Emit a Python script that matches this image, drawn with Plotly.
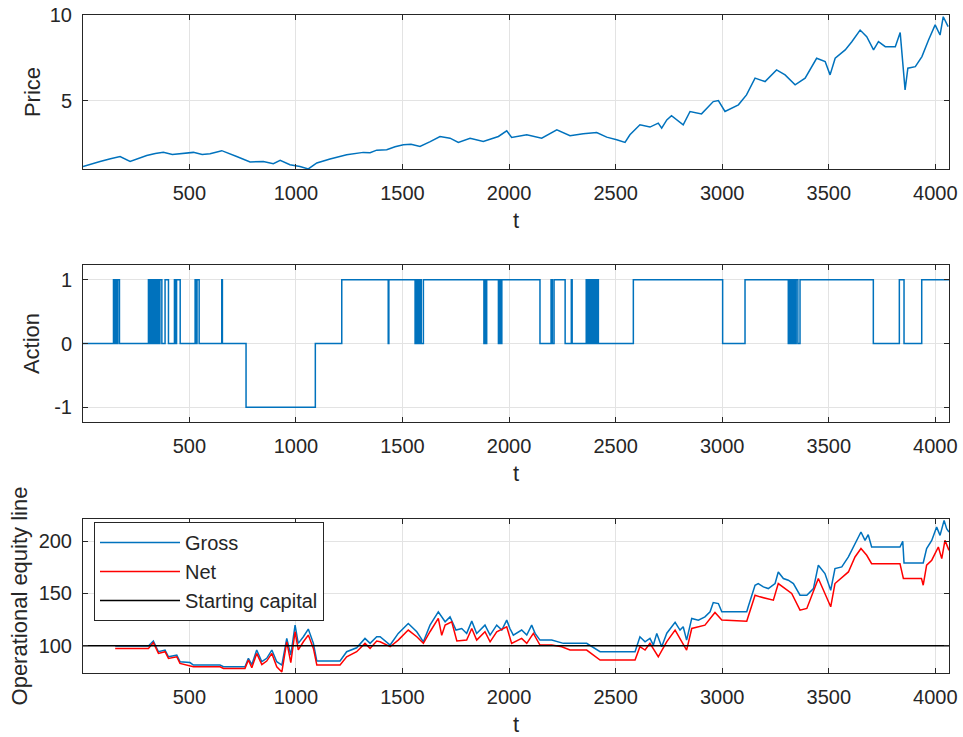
import plotly.graph_objects as go

# ---------------- data ----------------
price_t = [1, 40, 81, 130, 175, 222, 260, 300, 340, 378, 420, 456, 490, 519, 560, 597, 652, 690,
           722, 785, 847, 894, 926, 972, 1019, 1058, 1098, 1160, 1238, 1316, 1348, 1379, 1426, 1465,
           1504, 1540, 1582, 1630, 1676, 1723, 1762, 1817, 1879, 1950, 1989, 2012, 2083, 2153, 2224,
           2286, 2348, 2411, 2458, 2505, 2544, 2567, 2614, 2661, 2700, 2716, 2740, 2762, 2790, 2817,
           2849, 2903, 2958, 2982, 3013, 3076, 3114, 3154, 3201, 3255, 3295, 3342, 3389, 3443, 3483,
           3506, 3530, 3577, 3608, 3647, 3678, 3710, 3733, 3765, 3812, 3835, 3858, 3871, 3906, 3937,
           3968, 3999, 4022, 4037, 4060]
price_v = [1.15, 1.30, 1.44, 1.60, 1.73, 1.44, 1.60, 1.79, 1.90, 1.97, 1.85, 1.89, 1.95, 1.97, 1.85,
           1.89, 2.07, 1.90, 1.73, 1.41, 1.44, 1.31, 1.50, 1.25, 1.15, 1.00, 1.35, 1.58, 1.83, 1.97,
           1.95, 2.10, 2.12, 2.30, 2.42, 2.45, 2.32, 2.60, 2.90, 2.80, 2.55, 2.80, 2.61, 2.90, 3.23,
           2.84, 3.00, 2.80, 3.29, 2.94, 3.06, 3.13, 2.86, 2.71, 2.55, 3.00, 3.58, 3.45, 3.68, 3.39,
           3.87, 4.11, 3.85, 3.58, 4.36, 4.22, 4.94, 5.00, 4.36, 4.75, 5.33, 6.31, 6.11, 6.79, 6.50,
           5.92, 6.31, 7.47, 7.28, 6.50, 7.47, 7.96, 8.44, 9.12, 8.73, 7.96, 8.44, 8.15, 8.15, 8.97,
           5.62, 6.89, 6.98, 7.57, 8.54, 9.42, 8.83, 9.90, 9.32]

action_t = [1, 144, 150, 154, 160, 164, 172,
            308, 313, 318, 322, 327, 331, 336, 340, 345, 349, 354, 358, 362, 371,
            386, 402, 430, 436, 440, 457, 527, 532, 536, 546, 652, 655,
            766, 1091, 1215, 1433, 1436,
            1559, 1563, 1568, 1572, 1578, 1582, 1588, 1598,
            1882, 1886, 1890, 1895, 1950, 1954, 1960, 1966,
            2145, 2197, 2203, 2211, 2263, 2292, 2296,
            2362, 2367, 2372, 2377, 2382, 2386, 2391, 2395, 2402, 2406, 2412, 2419,
            2583, 3002, 3107,
            3310, 3314, 3320, 3325, 3331, 3336, 3342, 3347, 3355, 3365,
            3709, 3831, 3853, 3936, 4064]
action_v = [0, 1, 0, 1, 0, 1, 0,
            1, 0, 1, 0, 1, 0, 1, 0, 1, 0, 1, 0, 1, 0,
            1, 0, 1, 0, 1, 0, 1, 0, 1, 0, 1, 0,
            -1, 0, 1, 0, 1,
            0, 1, 0, 1, 0, 1, 0, 1,
            0, 1, 0, 1, 0, 1, 0, 1,
            0, 1, 0, 1, 0, 1, 0,
            1, 0, 1, 0, 1, 0, 1, 0, 1, 0, 1, 0,
            1, 0, 1,
            0, 1, 0, 1, 0, 1, 0, 1, 0, 1,
            0, 1, 0, 1, 1]

gross_t = [152, 308, 331, 355, 386, 402, 441, 456, 503, 519, 644, 660, 761, 777, 793, 816, 840, 863,
           887, 910, 934, 957, 976, 996, 1011, 1035, 1058, 1082, 1098, 1207, 1238, 1285, 1324, 1348,
           1379, 1395, 1442, 1480, 1527, 1567, 1598, 1629, 1668, 1700, 1723, 1751, 1778, 1801, 1825,
           1848, 1887, 1911, 1942, 1966, 1989, 2004, 2020, 2059, 2083, 2106, 2122, 2145, 2200, 2255,
           2364, 2427, 2591, 2614, 2638, 2661, 2677, 2693, 2716, 2740, 2779, 2802, 2817, 2833, 2857,
           2888, 2919, 2943, 2958, 2982, 2998, 3115, 3122, 3154, 3169, 3193, 3216, 3248, 3263, 3287,
           3310, 3334, 3365, 3397, 3428, 3451, 3482, 3509, 3529, 3561, 3592, 3623, 3651, 3670, 3685,
           3701, 3834, 3847, 3853, 3943, 3959, 3983, 4006, 4022, 4041, 4053, 4064]
gross_v = [99.7, 99.7, 104.5, 94.3, 95.9, 89.5, 91.0, 84.8, 84.0, 81.6, 81.6, 80.0, 80.0, 88.0, 82.0,
           95.9, 84.8, 88.0, 95.9, 84.8, 81.6, 107.0, 91.0, 119.7, 102.3, 108.6, 115.9, 102.3, 85.4,
           85.4, 94.3, 98.1, 107.0, 102.3, 108.6, 108.6, 100.7, 111.8, 121.3, 113.4, 103.8, 119.7,
           132.4, 122.9, 127.6, 115.0, 116.5, 111.8, 123.5, 111.8, 119.7, 110.2, 119.7, 115.0, 124.5,
           116.5, 110.2, 115.0, 110.2, 119.7, 111.8, 105.4, 105.4, 102.3, 102.3, 94.3, 94.3, 108.6,
           103.8, 107.0, 100.7, 111.8, 99.1, 112.0, 122.3, 115.0, 118.1, 105.4, 126.1, 124.5, 127.6,
           132.4, 141.3, 140.3, 132.4, 132.4, 137.2, 157.8, 159.4, 156.2, 154.6, 159.4, 170.5, 164.2,
           162.6, 159.4, 148.3, 148.3, 154.6, 176.9, 168.9, 153.0, 173.7, 175.3, 184.8, 197.5, 208.6,
           200.6, 206.0, 194.3, 194.3, 199.7, 179.0, 179.0, 192.8, 200.6, 213.3, 205.4, 219.7, 211.7,
           208.6]

net_t = [152, 308, 331, 355, 386, 402, 441, 456, 519, 644, 660, 761, 777, 793, 816, 840, 863, 887,
         910, 934, 957, 976, 996, 1011, 1035, 1058, 1082, 1098, 1207, 1238, 1285, 1324, 1348, 1379,
         1395, 1442, 1480, 1527, 1567, 1598, 1629, 1668, 1684, 1700, 1731, 1755, 1801, 1825, 1848,
         1887, 1911, 1942, 1989, 2012, 2059, 2083, 2114, 2137, 2145, 2200, 2247, 2286, 2364, 2427,
         2591, 2614, 2638, 2661, 2700, 2740, 2779, 2833, 2857, 2919, 2966, 2998, 3115, 3154, 3177,
         3240, 3263, 3326, 3365, 3397, 3451, 3509, 3529, 3592, 3623, 3651, 3678, 3701, 3834, 3850,
         3935, 3943, 3959, 3983, 4014, 4030, 4045, 4064]
net_v = [97.5, 97.5, 103.0, 92.7, 94.3, 87.9, 89.5, 83.2, 80.0, 80.0, 78.4, 78.4, 86.4, 79.0, 92.7,
         82.0, 85.4, 92.7, 80.0, 75.0, 103.8, 84.0, 113.4, 96.0, 103.8, 110.2, 97.5, 81.6, 81.6, 89.5,
         94.3, 102.3, 97.5, 104.5, 103.8, 99.1, 105.4, 115.0, 108.6, 102.3, 113.4, 126.1, 110.0,
         119.7, 122.9, 104.5, 105.4, 116.5, 105.4, 113.4, 103.8, 113.4, 118.1, 102.3, 107.0, 102.3,
         111.8, 103.0, 100.7, 100.7, 99.1, 95.9, 95.9, 86.4, 86.4, 99.1, 95.9, 102.3, 89.5, 104.0,
         115.0, 95.9, 116.5, 119.7, 131.8, 124.5, 123.5, 148.3, 146.7, 143.5, 159.4, 149.9, 134.0,
         135.6, 164.2, 137.2, 159.4, 170.5, 184.8, 192.8, 186.4, 178.4, 178.4, 164.2, 164.2, 157.8,
         176.9, 181.7, 194.3, 183.2, 200.6, 191.1]

starting_capital = 100
t_span = [1, 4064]

x_ticks = [500, 1000, 1500, 2000, 2500, 3000, 3500, 4000]
action_ticks = [-1, 0, 1]
action_tick_text = ["-1", "0", "1"]

# ---------------- styling ----------------
BLUE = "#0072BD"
RED = "#FF0000"
TXT = "#262626"
GRID = "#e3e3e3"
FONT = "Liberation Sans, Arial, sans-serif"
LW = 1.5

fig = go.Figure()
fig.add_trace(go.Scatter(x=price_t, y=price_v, mode="lines", line=dict(color=BLUE, width=LW),
                         showlegend=False, xaxis="x", yaxis="y"))
fig.add_trace(go.Scatter(x=action_t, y=action_v, mode="lines", line=dict(color=BLUE, width=LW, shape="hv"),
                         showlegend=False, xaxis="x2", yaxis="y2"))
fig.add_trace(go.Scatter(x=gross_t, y=gross_v, mode="lines", name="Gross",
                         line=dict(color=BLUE, width=LW), xaxis="x3", yaxis="y3"))
fig.add_trace(go.Scatter(x=net_t, y=net_v, mode="lines", name="Net",
                         line=dict(color=RED, width=LW), xaxis="x3", yaxis="y3"))
fig.add_trace(go.Scatter(x=t_span, y=[starting_capital, starting_capital], mode="lines",
                         name="Starting capital", line=dict(color="#000000", width=LW),
                         xaxis="x3", yaxis="y3"))

def xax(anchor):
    return dict(anchor=anchor, domain=[0, 1], range=t_span, tickvals=x_ticks, automargin=False,
                ticks="inside", ticklen=5, tickcolor=TXT, mirror="ticks", showline=True,
                linecolor=TXT, linewidth=1, showgrid=True, gridcolor=GRID, zeroline=False,
                tickfont=dict(size=20, color=TXT, family=FONT), ticklabelstandoff=6,
                title=dict(text="t", font=dict(size=22, color=TXT, family=FONT), standoff=9))

def yax(anchor, domain, rng, tickvals, title, standoff, ticktext=None):
    d = dict(anchor=anchor, domain=domain, range=rng, tickvals=tickvals, automargin=False,
             ticks="inside", ticklen=5, tickcolor=TXT, mirror="ticks", showline=True,
             linecolor=TXT, linewidth=1, showgrid=True, gridcolor=GRID, zeroline=False,
             tickfont=dict(size=20, color=TXT, family=FONT), ticklabelstandoff=6,
             title=dict(text=title, font=dict(size=22, color=TXT, family=FONT), standoff=standoff))
    if ticktext is not None:
        d["ticktext"] = ticktext
    return d

fig.update_layout(
    width=963, height=737,
    margin=dict(l=83, r=14, t=15, b=64),
    paper_bgcolor="white", plot_bgcolor="white",
    font=dict(family=FONT, color=TXT),
    xaxis=xax("y"),
    xaxis2=xax("y2"),
    xaxis3=xax("y3"),
    yaxis=yax("x", [0.766, 1.0], [1.0, 10.0], [5, 10], "Price", 3),
    yaxis2=yax("x2", [0.3815, 0.620], [-1.23, 1.23], action_ticks, "Action", 8, action_tick_text),
    yaxis3=yax("x3", [0.0, 0.234], [74, 221], [100, 150, 200], "Operational equity line", 4),
    legend=dict(x=0.0127, y=0.2295, xanchor="left", yanchor="top", bgcolor="white",
                bordercolor=TXT, borderwidth=1, itemwidth=80, tracegroupgap=0,
                font=dict(size=20, color=TXT, family=FONT)),
)

fig.write_html("out.html", config={"displayModeBar": False},
               post_script="document.body.style.margin='0';document.body.style.overflow='hidden';")
